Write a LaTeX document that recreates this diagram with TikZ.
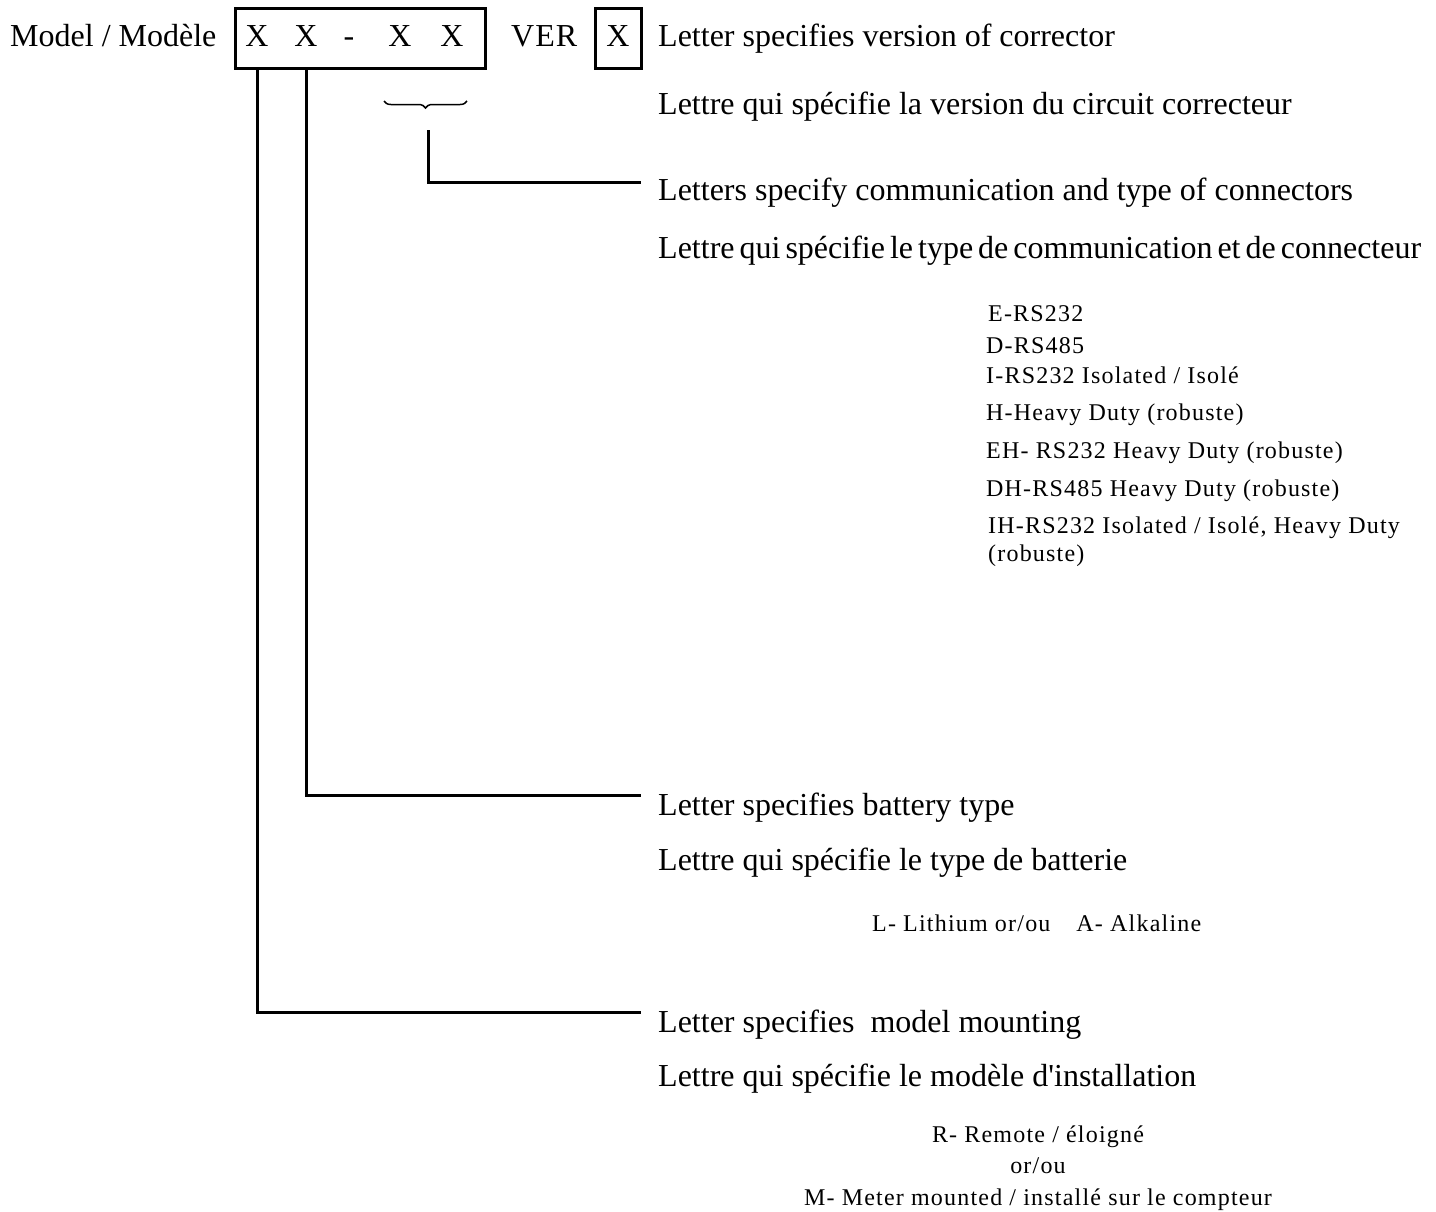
\documentclass[tikz,border=0pt]{standalone}
\usepackage{fontspec}
\setmainfont{Liberation Serif}
\newfontfamily\plainserif{Liberation Serif}
\newfontfamily\smallserif[LetterSpace=5]{Liberation Serif}
\usetikzlibrary{decorations.pathreplacing}
\begin{document}
\begin{tikzpicture}[x=1pt,y=-1pt,
  mainlbl/.style={font=\fontsize{32}{38}\selectfont, inner sep=0pt, anchor=base west},
  codechar/.style={font=\fontsize{32}{38}\selectfont, inner sep=0pt, anchor=base},
  sublbl/.style={font=\smallserif\fontsize{24}{28}\selectfont, inner sep=0pt, anchor=base west},
  subctr/.style={font=\smallserif\fontsize{24}{28}\selectfont, inner sep=0pt, anchor=base},
  codebox/.style={draw, line width=3pt, inner sep=0pt},
  wire/.style={line width=3pt},
  bracestyle/.style={line width=1.5pt, decorate, decoration={brace, mirror, amplitude=7pt}}
]
\useasboundingbox (0,0) rectangle (1436,1211);
\fill[white] (0,0) rectangle (1436,1211);

% top row
\node[mainlbl] (model) at (10,46) {Model / Modèle};
\node[codebox, minimum width=250pt, minimum height=60pt] (codefrm) at (360,38) {};
\node[codechar] (xa) at (257,46) {X};
\node[codechar] (xb) at (306,46) {X};
\node[codechar] (dash) at (349,46) {-};
\node[codechar] (xc) at (400,46) {X};
\node[codechar] (xd) at (452,46) {X};
\node[mainlbl] (ver) at (511,46) {V\kern1ptE\kern1ptR};
\node[codebox, minimum width=46pt, minimum height=60pt] (verfrm) at (618,38) {};
\node[codechar] (xv) at (618,46) {X};

% descriptions
\node[mainlbl] (verA) at (658,46) {Letter specifies version of corrector};
\node[mainlbl] (verB) at (658,114) {Lettre qui spécifie la version du circuit correcteur};
\node[mainlbl] (comA) at (658,200) {Letters specify communication and type of connectors};
\node[mainlbl] (comB) at (658,258) {\spaceskip=5pt Lettre qui spécifie le type de communication et de connecteur};

\node[sublbl] (c1) at (988,321) {E-RS232};
\node[sublbl] (c2) at (986,353) {D-RS485};
\node[sublbl] (c3) at (986,383) {I-RS232 Isolated / Isolé};
\node[sublbl] (c4) at (986,420) {H-Heavy Duty (robuste)};
\node[sublbl] (c5) at (986,458) {EH- RS232 Heavy Duty (robuste)};
\node[sublbl] (c6) at (986,496) {DH-RS485 Heavy Duty (robuste)};
\node[sublbl] (c7) at (988,533) {IH-RS232 Isolated / Isolé, Heavy Duty};
\node[sublbl] (c8) at (988,561) {(robuste)};

\node[mainlbl] (batA) at (658,815) {Letter specifies battery type};
\node[mainlbl] (batB) at (658,870) {Lettre qui spécifie le type de batterie};
\node[sublbl] (bat1) at (872,931) {L- Lithium or/ou\hspace{26pt}A- Alkaline};

\node[mainlbl] (mntA) at (658,1032) {Letter specifies\ \ model mounting};
\node[mainlbl] (mntB) at (658,1086) {Lettre qui spécifie le modèle d{\plainserif '}installation};
\node[subctr] (m1) at (1038,1142) {R- Remote / éloigné};
\node[subctr] (m2) at (1038,1173) {or/ou};
\node[subctr] (m3) at (1038,1205) {M- Meter mounted / installé sur le compteur};

% brace and connectors
\draw[bracestyle] (384,101) -- (467,101);
\coordinate (comstart) at (428,130);
\coordinate (comend) at (641,182);
\coordinate (batend) at (641,795);
\coordinate (mntend) at (641,1012);
\draw[wire] (comstart) |- (comend);
\draw[wire] (xb |- codefrm.south) |- (batend);
\draw[wire] (xa |- codefrm.south) |- (mntend);
\end{tikzpicture}
\end{document}
